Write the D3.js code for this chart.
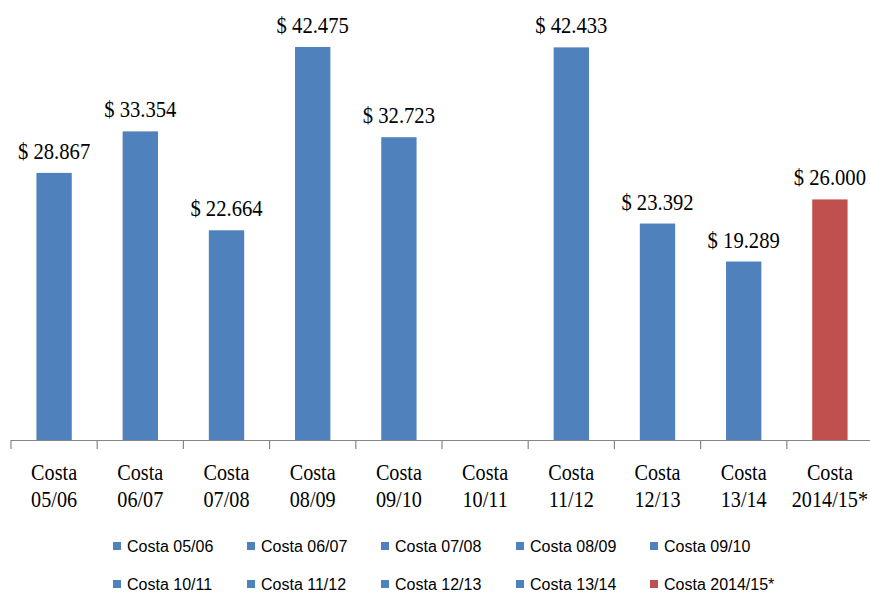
<!DOCTYPE html>
<html>
<head>
<meta charset="utf-8">
<script src="https://cdn.jsdelivr.net/npm/d3@7"></script>
<style>
  html, body { margin: 0; padding: 0; background: #fff; }
  svg { display: block; }
</style>
</head>
<body>
<svg id="chart" width="870" height="595"></svg>
<script>
const categories = ["Costa 05/06","Costa 06/07","Costa 07/08","Costa 08/09","Costa 09/10","Costa 10/11","Costa 11/12","Costa 12/13","Costa 13/14","Costa 2014/15*"];
const axisLine1 = ["Costa","Costa","Costa","Costa","Costa","Costa","Costa","Costa","Costa","Costa"];
const axisLine2 = ["05/06","06/07","07/08","08/09","09/10","10/11","11/12","12/13","13/14","2014/15*"];
const values = [28.867, 33.354, 22.664, 42.475, 32.723, null, 42.433, 23.392, 19.289, 26.000];
const valueLabels = ["$ 28.867","$ 33.354","$ 22.664","$ 42.475","$ 32.723","","$ 42.433","$ 23.392","$ 19.289","$ 26.000"];
const colors = ["#4F81BD","#4F81BD","#4F81BD","#4F81BD","#4F81BD","#4F81BD","#4F81BD","#4F81BD","#4F81BD","#C0504D"];

const svg = d3.select("#chart");
const baseY = 440;
const x = d3.scaleBand().domain(categories).range([11, 873]).paddingInner(0.59).paddingOuter(0.295);
const xTick = d3.scaleBand().domain(categories).range([11, 873]);
const y = d3.scaleLinear().domain([0, 45]).range([baseY, baseY - 45 * 9.253]);

// bars
svg.append("g").selectAll("rect")
  .data(categories.map((c, i) => ({c, v: values[i], col: colors[i], lab: valueLabels[i]})).filter(d => d.v != null))
  .join("rect")
  .attr("x", d => x(d.c))
  .attr("y", d => y(d.v))
  .attr("width", x.bandwidth())
  .attr("height", d => y(0) - y(d.v))
  .attr("fill", d => d.col);

// value labels
const sx = 0.86;
svg.append("g").selectAll("g")
  .data(categories.map((c, i) => ({c, v: values[i], lab: valueLabels[i]})).filter(d => d.v != null))
  .join("g")
  .attr("transform", d => `translate(${x(d.c) + x.bandwidth() / 2},${y(d.v) - 14}) scale(${sx},1)`)
  .append("text")
  .attr("text-anchor", "middle")
  .attr("font-family", "'Liberation Serif','Times New Roman',serif")
  .attr("font-size", 24)
  .attr("fill", "#000")
  .text(d => d.lab);

// axis line + ticks
const axisG = svg.append("g").attr("transform", `translate(0,${baseY})`);
axisG.append("line").attr("x1", 11).attr("x2", 873).attr("y1", 0.5).attr("y2", 0.5)
  .attr("stroke", "#868686").attr("stroke-width", 1.2);
axisG.selectAll("line.tick")
  .data(categories.concat(["__end"]))
  .join("line").attr("class", "tick")
  .attr("x1", d => d === "__end" ? 873 : xTick(d))
  .attr("x2", d => d === "__end" ? 873 : xTick(d))
  .attr("y1", 0).attr("y2", 9)
  .attr("stroke", "#868686").attr("stroke-width", 1.2);

// category labels
const catG = svg.append("g").selectAll("g")
  .data(categories.map((c, i) => ({c, l1: axisLine1[i], l2: axisLine2[i]})))
  .join("g")
  .attr("transform", d => `translate(${xTick(d.c) + xTick.bandwidth() / 2},0) scale(${sx},1)`);
catG.append("text").attr("y", 480).attr("text-anchor", "middle")
  .attr("font-family", "'Liberation Serif','Times New Roman',serif").attr("font-size", 23.5)
  .text(d => d.l1);
catG.append("text").attr("y", 507).attr("text-anchor", "middle")
  .attr("font-family", "'Liberation Serif','Times New Roman',serif").attr("font-size", 23.5)
  .text(d => d.l2);

// legend
const legX = [113, 247, 381, 516, 650];
const legY = [546, 584];
const leg = svg.append("g").selectAll("g")
  .data(categories.map((c, i) => ({c, col: colors[i], i})))
  .join("g")
  .attr("transform", d => `translate(${legX[d.i % 5]},${legY[Math.floor(d.i / 5)]})`);
leg.append("rect").attr("x", 0).attr("y", -4).attr("width", 8).attr("height", 8).attr("fill", d => d.col);
leg.append("text").attr("x", 14).attr("y", 5.5)
  .attr("font-family", "'Liberation Sans',Arial,sans-serif").attr("font-size", 16)
  .attr("fill", "#000")
  .text(d => d.c);
</script>
</body>
</html>
